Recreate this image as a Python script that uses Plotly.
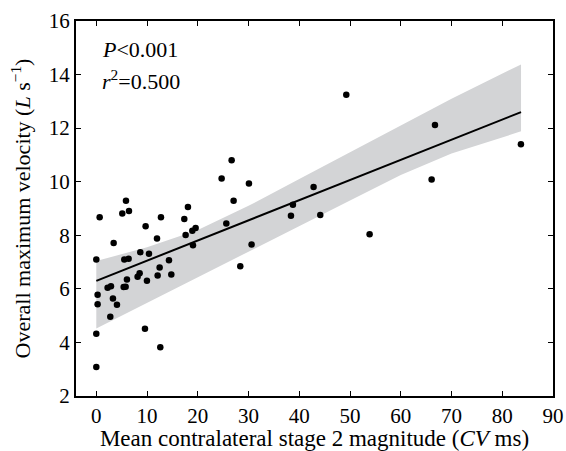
import plotly.graph_objects as go

# scatter data
stage2_mag = [0, 0.66, 0.26, 0.26, 0, 0, 2.76, 2.23, 2.89, 3.28, 4.07, 3.42, 5.12, 5.85,
              6.44, 5.52, 6.37, 5.39, 5.78, 6.04, 9.72, 8.67, 10.38, 8.54, 8.14, 9.98,
              9.59, 12.61, 11.96, 12.74, 12.48, 12.09, 14.32, 14.78, 17.34, 18.06, 17.60,
              18.92, 19.57, 19.05, 25.62, 27.06, 28.37, 30.08, 30.60, 38.36, 38.75, 42.82,
              44.14, 24.70, 26.67, 49.26, 66.74, 66.08, 83.68, 53.86]
max_velocity = [7.10, 8.67, 5.78, 5.43, 4.32, 3.08, 4.96, 6.04, 6.10, 5.64, 5.41, 7.71, 8.81, 9.29,
                8.91, 7.10, 7.12, 6.07, 6.08, 6.35, 8.34, 7.37, 7.31, 6.58, 6.45, 6.30,
                4.51, 3.82, 7.88, 8.67, 6.80, 6.50, 7.07, 6.54, 8.61, 9.06, 8.01,
                8.17, 8.27, 7.63, 8.44, 9.29, 6.84, 9.93, 7.66, 8.73, 9.14, 9.80,
                8.76, 10.12, 10.80, 13.25, 12.12, 10.08, 11.40, 8.04]

# regression line end points
fit_x = [0, 83.7]
fit_y = [6.30, 12.60]

# confidence band edges
band_x = [0, 10, 20, 30, 40, 50, 60, 70, 83.7]
band_upper = [7.04, 7.55, 8.2, 9.1, 10.1, 11.1, 12.1, 13.1, 14.38]
band_lower = [4.52, 5.5, 6.45, 7.4, 8.35, 9.3, 10.25, 11.05, 11.88]

FONT = "Liberation Serif"

fig = go.Figure()
fig.add_trace(go.Scatter(x=band_x + band_x[::-1], y=band_upper + band_lower[::-1],
                         fill="toself", fillcolor="rgb(211,212,214)", line=dict(width=0),
                         mode="lines", hoverinfo="skip"))
fig.add_trace(go.Scatter(x=fit_x, y=fit_y, mode="lines", line=dict(color="black", width=2)))
fig.add_trace(go.Scatter(x=stage2_mag, y=max_velocity, mode="markers",
                         marker=dict(color="black", size=6.5)))

fig.add_annotation(x=0.05, y=0.923, xref="paper", yref="paper", xanchor="left", yanchor="middle",
                   text="<i>P</i>&lt;0.001", showarrow=False, font=dict(family=FONT, size=22, color="black"))
fig.add_annotation(x=0.05, y=0.842, xref="paper", yref="paper", xanchor="left", yanchor="middle",
                   text="<i>r</i><sup>2</sup>=0.500", showarrow=False, font=dict(family=FONT, size=22, color="black"))

axis_common = dict(showgrid=False, zeroline=False, showline=True, linecolor="black", linewidth=2,
                   mirror="ticks", ticks="inside", ticklen=5, tickwidth=1, tickcolor="black",
                   tickfont=dict(family=FONT, size=21, color="black"))

fig.update_xaxes(range=[-4, 90], tickvals=[0, 10, 20, 30, 40, 50, 60, 70, 80, 90],
                 title=dict(text="Mean contralateral stage 2 magnitude (<i>CV</i> ms)",
                            font=dict(family=FONT, size=23, color="black"), standoff=9),
                 **axis_common)
fig.update_yaxes(range=[2, 16], tickvals=[2, 4, 6, 8, 10, 12, 14, 16],
                 title=dict(text="Overall maximum velocity (<i>L</i> s<sup>\u22121</sup>)",
                            font=dict(family=FONT, size=22, color="black"), standoff=12),
                 **axis_common)

fig.update_layout(width=566, height=451, showlegend=False,
                  margin=dict(l=76, r=13, t=21, b=55, autoexpand=False),
                  plot_bgcolor="white", paper_bgcolor="white")

fig.write_html("out.html", config={"displayModeBar": False},
               post_script="document.body.style.margin='0';")
